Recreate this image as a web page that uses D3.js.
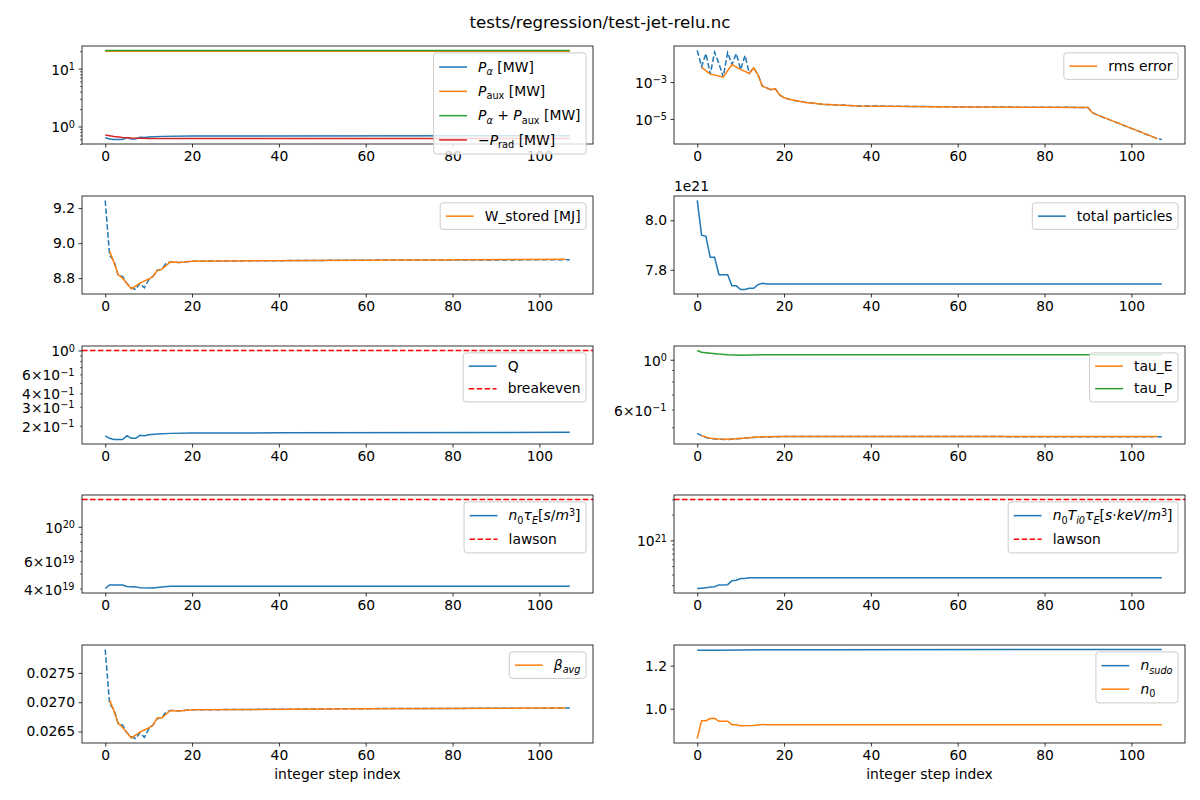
<!DOCTYPE html>
<html>
<head>
<meta charset="utf-8">
<script src="https://cdn.jsdelivr.net/npm/d3@7"></script>
<style>
body { margin: 0; background: #fff; }
svg { font-family: "DejaVu Sans", sans-serif; }
</style>
</head>
<body>
<div id="content"></div>
<script>
// ---- data ([step, value]) ----
const pAlpha = [[0,0.64],[1,0.61],[2,0.595],[4,0.595],[5,0.645],[6,0.61],[7,0.61],[8,0.65],[9,0.645],[10,0.66],[13,0.675],[20,0.685],[107,0.695]]
const pAux = [[0,19.9],[107,19.9]]
const pTotal = [[0,20.6],[107,20.6]]
const pRad = [[0,0.71],[2,0.67],[4,0.645],[6,0.63],[10,0.622],[107,0.62]]

const rmsTrial = [[0,5.2e-2],[1,7.0e-3],[2,3.5e-2],[3,2.7e-3],[4,4.2e-2],[5,1.0e-2],[6,1.9e-3],[7,4.0e-2],[8,8.9e-3],[9,3.5e-2],[10,4.7e-3],[11,2.8e-2],[12,3.0e-3],[13,5.9e-3],[14,2.5e-3],[15,6.0e-4],[17,3.9e-4],[18,4.3e-4],[19,2.0e-4],[20,1.4e-4],[22,1.05e-4],[25,7.9e-5],[29,6.2e-5],[37,5.1e-5],[60,4.5e-5],[90,4.2e-5],[91,2.2e-5],[92,1.7e-5],[106,8.5e-7],[107,7.6e-7]]
const rmsError = [[1,6.3e-3],[3,2.7e-3],[6,1.9e-3],[8,8.9e-3],[10,4.7e-3],[12,3.0e-3],[13,5.9e-3],[14,2.5e-3],[15,6.0e-4],[17,3.9e-4],[18,4.3e-4],[19,2.0e-4],[20,1.4e-4],[22,1.05e-4],[25,7.9e-5],[29,6.2e-5],[37,5.1e-5],[60,4.5e-5],[90,4.2e-5],[91,2.2e-5],[92,1.7e-5],[106,8.5e-7]]

const wTrial = [[0,9.244],[1,8.93],[2,8.90],[3,8.815],[4,8.81],[5,8.77],[6,8.745],[7,8.735],[8,8.77],[9,8.745],[10,8.79],[11,8.81],[12,8.845],[13,8.85],[14,8.885],[15,8.893],[17,8.889],[20,8.897],[60,8.903],[107,8.905]]
const wStored = [[1,8.955],[2,8.89],[3,8.819],[4,8.80],[5,8.77],[6,8.74],[7,8.755],[8,8.772],[10,8.795],[11,8.81],[12,8.844],[13,8.85],[15,8.893],[17,8.889],[20,8.897],[60,8.903],[106,8.908]]

const totalParticles = [[0,8.08e21],[1,7.94e21],[2,7.935e21],[3,7.85e21],[4,7.85e21],[5,7.78e21],[7,7.78e21],[8,7.735e21],[9,7.735e21],[10,7.72e21],[11,7.72e21],[12,7.725e21],[13,7.725e21],[14,7.74e21],[15,7.745e21],[16,7.742e21],[107,7.742e21]]

const qValues = [[0,0.161],[1,0.153],[2,0.149],[3,0.149],[4,0.149],[5,0.162],[6,0.153],[7,0.153],[8,0.163],[9,0.162],[10,0.165],[12,0.168],[15,0.170],[20,0.171],[40,0.172],[107,0.174]]
const breakeven = 1

const tauETrial = [[0,0.47],[1,0.459],[2,0.45],[4,0.444],[7,0.441],[10,0.446],[14,0.452],[20,0.455],[107,0.454]]
const tauE = [[1,0.46],[2,0.452],[3,0.447],[5,0.443],[7,0.442],[10,0.446],[14,0.453],[20,0.455],[106,0.455]]
const tauP = [[0,1.10],[1,1.08],[3,1.07],[5,1.06],[7,1.053],[10,1.047],[15,1.052],[107,1.052]]

const nTauE = [[0,4.0e19],[1,4.22e19],[4,4.22e19],[5,4.12e19],[7,4.1e19],[8,4.05e19],[11,4.04e19],[13,4.1e19],[15,4.14e19],[107,4.14e19]]
const lawsonNTau = 1.5e20
const nTTauE = [[0,2.74e20],[1,2.77e20],[2,2.79e20],[3,2.86e20],[4,2.88e20],[5,3.02e20],[7,3.04e20],[8,3.38e20],[9,3.42e20],[10,3.58e20],[11,3.6e20],[12,3.67e20],[107,3.67e20]]
const lawsonNTTau = 3e21

const betaTrial = [[0,0.02790],[1,0.02697],[2,0.02688],[3,0.02663],[4,0.02661],[5,0.02648],[6,0.02641],[7,0.02638],[8,0.02648],[9,0.02640],[10,0.02654],[11,0.02661],[12,0.02672],[13,0.02673],[14,0.02683],[15,0.02686],[17,0.02685],[20,0.02687],[60,0.02689],[107,0.02690]]
const betaAvg = [[1,0.02704],[2,0.02685],[3,0.02664],[4,0.02657],[5,0.02648],[6,0.02639],[7,0.02644],[8,0.02649],[10,0.02656],[11,0.02661],[12,0.02673],[13,0.02673],[15,0.02686],[17,0.02685],[20,0.02687],[60,0.02689],[106,0.02690]]

const nSudo = [[0,1.271],[5,1.271],[10,1.273],[30,1.274],[107,1.275]]
const n0 = [[0,0.862],[1,0.945],[2,0.945],[3,0.955],[4,0.956],[5,0.942],[7,0.942],[8,0.926],[9,0.926],[10,0.921],[13,0.922],[15,0.927],[16,0.926],[107,0.926]]

// ---- ticks ----
const xTicks = [0, 20, 40, 60, 80, 100]
const pMajor = [1, 10], pMinor = [0.5,0.6,0.7,0.8,0.9,2,3,4,5,6,7,8,9,20]
const rmsMajor = [1e-5, 1e-3]
const wTicks = [8.8, 9.0, 9.2]
const particleTicks = [7.8e21, 8.0e21]
const qMajor = [1], qMinor = [0.2,0.3,0.4,0.5,0.6,0.7,0.8,0.9], qMinorLabels = [0.2,0.3,0.4,0.6]
const tauMajor = [1], tauMinor = [0.5,0.6,0.7,0.8,0.9], tauMinorLabels = [0.6]
const nTauMajor = [1e20], nTauMinor = [4e19,5e19,6e19,7e19,8e19,9e19], nTauMinorLabels = [4e19,6e19]
const nTTauMajor = [1e21], nTTauMinor = [3e20,4e20,5e20,6e20,7e20,8e20,9e20,2e21,3e21]
const betaTicks = [0.0265, 0.0270, 0.0275]
const nTicks = [1.0, 1.2]

// ---- labels (segments: [text, flags] i=italic b=subscript p=superscript) ----
const lblPAlpha = [["P","i"],["α","ib"],[" [MW]"]]
const lblPAux = [["P","i"],["aux","b"],[" [MW]"]]
const lblPSum = [["P","i"],["α","ib"],[" + "],["P","i"],["aux","b"],[" [MW]"]]
const lblPRad = [["−"],["P","i"],["rad","b"],[" [MW]"]]
const lblNTau = [["n","i"],["0","b"],["τ","i"],["E","ib"],["["],["s","i"],["/"],["m","i"],["3","p"],["]"]]
const lblNTTau = [["n","i"],["0","b"],["T","i"],["i0","ib"],["τ","i"],["E","ib"],["["],["s","i"],["·"],["keV","i"],["/"],["m","i"],["3","p"],["]"]]
const lblBeta = [["β","i"],["avg","ib"]]
const lblNSudo = [["n","i"],["sudo","ib"]]
const lblN0 = [["n","i"],["0","b"]]

const C0 = "#1f77b4", C1 = "#ff7f0e", C2 = "#2ca02c", C3 = "#d62728", RED = "#ff0000"
const DASH = "5.55,2.4"
const FS = 13.89

const colX = [82, 674]
const rowY = [46, 196, 346, 495, 645]
const W = 511, H = 98

const svg = d3.select("#content").append("svg")
    .attr("width", 1200)
    .attr("height", 800)

function setMath(text, segs, size) {
    text.text(null)
    let shift = 0
    segs.forEach(([s, f = ""]) => {
        const small = f.includes("b") || f.includes("p")
        const target = f.includes("b") ? size * 0.24 : f.includes("p") ? -size * 0.33 : 0
        text.append("tspan")
            .attr("dy", target - shift)
            .style("font-size", (small ? size * 0.7 : size) + "px")
            .style("font-style", f.includes("i") ? "italic" : "normal")
            .text(s)
        shift = target
    })
}

function logLabel(v, minor) {
    const k = Math.floor(Math.log10(v) + 1e-9)
    const e = k < 0 ? "−" + (-k) : String(k)
    if (!minor) return [["10"], [e, "p"]]
    const m = Math.round(v / 10 ** k)
    return [[m + "×10"], [e, "p"]]
}

const panels = [
    {col: 0, row: 0, log: true, major: pMajor, minor: pMinor, pitch: 24.3,
     lines: [{data: pAlpha, color: C0}, {data: pAux, color: C1}, {data: pTotal, color: C2}, {data: pRad, color: C3}],
     legend: [{color: C0, label: lblPAlpha}, {color: C1, label: lblPAux}, {color: C2, label: lblPSum}, {color: C3, label: lblPRad}]},
    {col: 1, row: 0, log: true, major: rmsMajor, minor: [],
     lines: [{data: rmsTrial, color: C0, dash: DASH}, {data: rmsError, color: C1}],
     legend: [{color: C1, label: [["rms error"]]}]},
    {col: 0, row: 1, major: wTicks, fmt: d3.format(".1f"),
     lines: [{data: wTrial, color: C0, dash: DASH}, {data: wStored, color: C1}],
     legend: [{color: C1, label: [["W_stored [MJ]"]]}]},
    {col: 1, row: 1, major: particleTicks, fmt: v => (v / 1e21).toFixed(1), offset: "1e21",
     lines: [{data: totalParticles, color: C0}],
     legend: [{color: C0, label: [["total particles"]]}]},
    {col: 0, row: 2, log: true, major: qMajor, minor: qMinor, minorLabels: qMinorLabels,
     lines: [{data: qValues, color: C0}], hlines: [breakeven],
     legend: [{color: C0, label: [["Q"]]}, {color: RED, dash: DASH, label: [["breakeven"]]}]},
    {col: 1, row: 2, log: true, major: tauMajor, minor: tauMinor, minorLabels: tauMinorLabels,
     lines: [{data: tauETrial, color: C0, dash: DASH}, {data: tauE, color: C1}, {data: tauP, color: C2}],
     legend: [{color: C1, label: [["tau_E"]]}, {color: C2, label: [["tau_P"]]}]},
    {col: 0, row: 3, log: true, major: nTauMajor, minor: nTauMinor, minorLabels: nTauMinorLabels, pitch: 23.5,
     lines: [{data: nTauE, color: C0}], hlines: [lawsonNTau],
     legend: [{color: C0, label: lblNTau}, {color: RED, dash: DASH, label: [["lawson"]]}]},
    {col: 1, row: 3, log: true, major: nTTauMajor, minor: nTTauMinor, pitch: 23.5,
     lines: [{data: nTTauE, color: C0}], hlines: [lawsonNTTau],
     legend: [{color: C0, label: lblNTTau}, {color: RED, dash: DASH, label: [["lawson"]]}]},
    {col: 0, row: 4, major: betaTicks, fmt: d3.format(".4f"), xlabel: true,
     lines: [{data: betaTrial, color: C0, dash: DASH}, {data: betaAvg, color: C1}],
     legend: [{color: C1, label: lblBeta}]},
    {col: 1, row: 4, major: nTicks, fmt: d3.format(".1f"), xlabel: true, pitch: 23.5,
     lines: [{data: nSudo, color: C0}, {data: n0, color: C1}],
     legend: [{color: C0, label: lblNSudo}, {color: C1, label: lblN0}]},
]

function styleAxis(g, width) {
    g.attr("font-size", null).attr("font-family", null)
    g.select(".domain").remove()
    g.selectAll(".tick line").attr("stroke", "#000").attr("stroke-width", width)
    g.selectAll(".tick text").attr("fill", "#000").style("font-size", FS + "px")
}

panels.forEach((p, pi) => {
    const g = svg.append("g").attr("transform", `translate(${colX[p.col]},${rowY[p.row]})`)
    const hlines = p.hlines || []

    const xScale = d3.scaleLinear().domain([-5.35, 112.35]).range([0, W])
    const vals = p.lines.flatMap(l => l.data.map(d => d[1])).concat(hlines)
    const [lo, hi] = d3.extent(vals)
    let yScale
    if (p.log) {
        const a = Math.log10(lo), b = Math.log10(hi), m = (b - a) * 0.05
        yScale = d3.scaleLog().domain([10 ** (a - m), 10 ** (b + m)]).range([H, 0])
    } else {
        const m = (hi - lo) * 0.05
        yScale = d3.scaleLinear().domain([lo - m, hi + m]).range([H, 0])
    }
    const [d0, d1] = yScale.domain()

    g.append("clipPath").attr("id", "clip" + pi)
      .append("rect").attr("width", W).attr("height", H)

    const plot = g.append("g").attr("clip-path", `url(#clip${pi})`)
    const line = d3.line().x(d => xScale(d[0])).y(d => yScale(d[1]))

    p.lines.forEach(l => {
        plot.append("path")
            .attr("d", line(l.data))
            .attr("fill", "none")
            .attr("stroke", l.color)
            .attr("stroke-width", 1.5)
            .attr("stroke-dasharray", l.dash || null)
    })
    hlines.forEach(v => {
        plot.append("line")
            .attr("x1", 0).attr("x2", W)
            .attr("y1", yScale(v)).attr("y2", yScale(v))
            .attr("stroke", RED)
            .attr("stroke-width", 1.5)
            .attr("stroke-dasharray", DASH)
    })

    // x axis
    const xAxis = g.append("g")
        .attr("transform", `translate(0,${H})`)
        .call(d3.axisBottom(xScale).tickValues(xTicks).tickSize(3.5).tickPadding(3.5).tickSizeOuter(0))
    styleAxis(xAxis, 0.8)

    // y axis
    const inside = v => v >= d0 && v <= d1
    if (p.log) {
        const minors = (p.minor || []).filter(inside)
        const minorLabels = p.minorLabels || []
        const yMinor = g.append("g")
            .call(d3.axisLeft(yScale).tickValues(minors).tickSize(2).tickPadding(5.5).tickSizeOuter(0).tickFormat(""))
        styleAxis(yMinor, 0.6)
        yMinor.selectAll(".tick text").each(function (v) {
            if (minorLabels.includes(v)) {
                const t = d3.select(this).attr("dy", null).attr("y", 5.5)
                setMath(t, logLabel(v, true), FS)
            }
        })
        const yMajor = g.append("g")
            .call(d3.axisLeft(yScale).tickValues(p.major.filter(inside)).tickSize(3.5).tickPadding(3.5).tickSizeOuter(0))
        styleAxis(yMajor, 0.8)
        yMajor.selectAll(".tick text").each(function (v) {
            const t = d3.select(this).attr("dy", null).attr("y", 5.5)
            setMath(t, logLabel(v, false), FS)
        })
    } else {
        const yAxis = g.append("g")
            .call(d3.axisLeft(yScale).tickValues(p.major).tickSize(3.5).tickPadding(3.5).tickSizeOuter(0).tickFormat(p.fmt))
        styleAxis(yAxis, 0.8)
    }

    if (p.offset) {
        g.append("text")
            .attr("x", 0).attr("y", -5)
            .style("font-size", FS + "px")
            .text(p.offset)
    }

    // frame
    g.append("rect")
        .attr("width", W).attr("height", H)
        .attr("fill", "none")
        .attr("stroke", "#000")
        .attr("stroke-width", 0.8)

    if (p.xlabel) {
        g.append("text")
            .attr("x", W / 2).attr("y", H + 36)
            .attr("text-anchor", "middle")
            .style("font-size", FS + "px")
            .text("integer step index")
    }

    // legend, upper right
    const pitch = p.pitch || 22.5
    const pad = 5.5, rowH = pitch - 7
    const lg = g.append("g")
    const box = lg.append("rect")
    const texts = p.legend.map((e, i) => {
        const cy = pad + rowH / 2 + i * pitch
        const t = lg.append("text")
            .attr("x", 44.5)
            .attr("y", cy + 4.8)
            .style("font-size", FS + "px")
        setMath(t, e.label, FS)
        lg.append("line")
            .attr("x1", 5.56).attr("x2", 33.4)
            .attr("y1", cy).attr("y2", cy)
            .attr("stroke", e.color)
            .attr("stroke-width", 1.5)
            .attr("stroke-dasharray", e.dash || null)
        return t
    })
    const tw = d3.max(texts, t => t.node().getComputedTextLength())
    const bw = 44.5 + tw + 5.56
    const bh = 2 * pad + p.legend.length * pitch - 7
    box.attr("width", bw).attr("height", bh)
        .attr("rx", 3)
        .attr("fill", "#fff").attr("fill-opacity", 0.8)
        .attr("stroke", "#cccccc").attr("stroke-width", 1)
    lg.attr("transform", `translate(${W - 6.9 - bw},6.9)`)
})

svg.append("text")
    .attr("x", 600).attr("y", 28)
    .attr("text-anchor", "middle")
    .style("font-size", "16.67px")
    .text("tests/regression/test-jet-relu.nc")
</script>
</body>
</html>
